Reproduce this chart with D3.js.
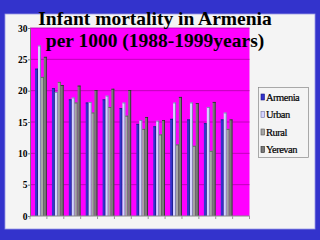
<!DOCTYPE html>
<html>
<head>
<meta charset="utf-8">
<script src="https://cdn.jsdelivr.net/npm/d3@7"></script>
<style>
  body { margin: 0; background: #3333cc; }
  svg { display: block; }
</style>
</head>
<body>
<div id="chart"></div>
<script>
// data
var years = ["1988","1989","1990","1991","1992","1993","1994","1995","1996","1997","1998","1999",""];
var series = ["Armenia","Urban","Rural","Yerevan"];
var armenia = [23.5, 20.4, 18.6, 18.1, 18.6, 17.2, 14.7, 14.3, 15.5, 15.4, 14.8, 15.4];
var urban   = [27.2, 19.8, 18.9, 18.2, 19.2, 18.1, 15.3, 15.2, 18.1, 18.1, 17.4, 16.5];
var rural   = [22.2, 21.4, 18.1, 16.5, 17.4, 16.0, 13.9, 13.0, 11.4, 11.2, 10.4, 13.9];
var yerevan = [25.4, 20.9, 20.8, 20.1, 20.3, 20.1, 15.8, 15.3, 19.0, 18.0, 18.2, 15.4];
var yTicks = [0, 5, 10, 15, 20, 25, 30];

var values = {Armenia: armenia, Urban: urban, Rural: rural, Yerevan: yerevan};
var fills  = {Armenia: "#3333cc", Urban: "#d4d4ff", Rural: "#a6a6a6", Yerevan: "#7a7a7a"};
var edges  = {Armenia: "#1a1a80", Urban: "#7070a0", Rural: "#555555", Yerevan: "#2a2a2a"};

var width = 320, height = 240;
var plot = {left: 30, right: 249.5, top: 28, bottom: 216};

var svg = d3.select("#chart").append("svg")
    .attr("width", width)
    .attr("height", height);

svg.append("rect").attr("width", width).attr("height", height).attr("fill", "#3333cc");

// light panel
svg.append("rect")
    .attr("x", 5).attr("y", 14).attr("width", 310).attr("height", 215)
    .attr("fill", "#f4f4f4")
    .attr("stroke", "#9a9ae6").attr("stroke-width", 0.8);

var x0 = d3.scaleBand().domain(years).range([plot.left, plot.right]).padding(0);
var x1 = d3.scaleBand().domain(series)
    .range([x0.bandwidth() * 0.3, x0.bandwidth() * 0.99]).padding(0);
var y = d3.scaleLinear().domain([0, 30]).range([plot.bottom, plot.top]);

// plot area
svg.append("rect")
    .attr("x", plot.left).attr("y", plot.top)
    .attr("width", plot.right - plot.left).attr("height", plot.bottom - plot.top)
    .attr("fill", "#ff00ff");

svg.append("g").selectAll("line")
    .data(yTicks.slice(1))
    .join("line")
    .attr("x1", plot.left).attr("x2", plot.right)
    .attr("y1", d => y(d)).attr("y2", d => y(d))
    .attr("stroke", "#b000a8").attr("stroke-width", 0.8);

// bars
var groups = svg.append("g").selectAll("g")
    .data(years.filter(d => d !== ""))
    .join("g")
    .attr("transform", d => `translate(${x0(d)},0)`);

groups.each(function(yr, i) {
    var g = d3.select(this);
    series.forEach(function(s) {
        var v = values[s][i];
        var bx = x1(s), bw = x1.bandwidth();
        g.append("rect")
            .attr("x", bx).attr("y", y(v))
            .attr("width", bw).attr("height", y(0) - y(v))
            .attr("fill", fills[s]);
        g.append("rect")
            .attr("x", bx + bw - 0.8).attr("y", y(v))
            .attr("width", 0.8).attr("height", y(0) - y(v))
            .attr("fill", edges[s]);
        g.append("rect")
            .attr("x", bx).attr("y", y(v))
            .attr("width", bw).attr("height", 0.8)
            .attr("fill", edges[s]);
    });
});

// axes
svg.append("g")
    .attr("transform", `translate(${plot.left},0)`)
    .call(d3.axisLeft(y).tickValues(yTicks).tickSize(2).tickSizeOuter(0))
    .call(g => g.select(".domain").attr("stroke", "#777"))
    .call(g => g.selectAll(".tick line").attr("stroke", "#777"))
    .call(g => g.selectAll("text")
        .attr("font-family", "Liberation Serif")
        .attr("font-weight", "bold")
        .attr("font-size", 9.5)
        .attr("fill", "#000")
        .attr("x", -2.5));

var xTickPos = years.map(d => x0(d)).concat([plot.right]);
svg.append("line")
    .attr("x1", plot.left).attr("x2", plot.right)
    .attr("y1", plot.bottom).attr("y2", plot.bottom)
    .attr("stroke", "#888");
svg.append("g").selectAll("line")
    .data(xTickPos)
    .join("line")
    .attr("x1", d => d).attr("x2", d => d)
    .attr("y1", plot.bottom).attr("y2", plot.bottom + 3)
    .attr("stroke", "#999");

// title
var title = svg.append("text")
    .attr("text-anchor", "middle")
    .attr("font-family", "Liberation Serif")
    .attr("font-weight", "bold")
    .attr("font-size", 19.5)
    .attr("fill", "#000");
title.append("tspan").attr("x", 155).attr("y", 25).text("Infant mortality in Armenia");
title.append("tspan").attr("x", 155).attr("y", 47).text("per 1000 (1988-1999years)");

// legend
var legend = svg.append("g");
legend.append("rect")
    .attr("x", 258.5).attr("y", 87.5).attr("width", 50).attr("height", 70)
    .attr("fill", "#f4f4f4").attr("stroke", "#888").attr("stroke-width", 0.7);

var items = legend.selectAll("g.item")
    .data(series)
    .join("g")
    .attr("class", "item")
    .attr("transform", (d, i) => `translate(261, ${94 + i * 17.5})`);
items.append("rect")
    .attr("width", 3.5).attr("height", 6)
    .attr("fill", d => fills[d])
    .attr("stroke", d => edges[d]).attr("stroke-width", 0.6);
items.append("text")
    .attr("x", 5).attr("y", 6.5)
    .attr("font-family", "Liberation Serif")
    .attr("font-size", 10.5)
    .attr("letter-spacing", -0.5)
    .attr("stroke", "#000").attr("stroke-width", 0.2)
    .attr("fill", "#000")
    .text(d => d);
</script>
</body>
</html>
